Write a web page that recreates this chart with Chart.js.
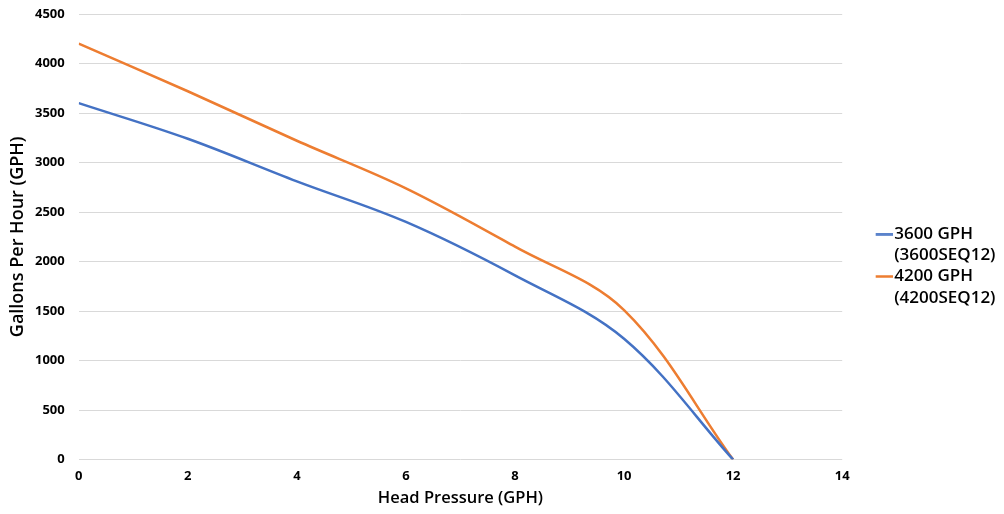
<!DOCTYPE html>
<html>
<head>
<meta charset="utf-8">
<script src="https://cdn.jsdelivr.net/npm/chart.js@4.4.1/dist/chart.umd.min.js"></script>
<style>
  html, body { margin: 0; padding: 0; background: #fff; }
  #wrap { width: 1004px; height: 514px; position: relative; }
</style>
</head>
<body>
<div id="wrap"><canvas id="c" width="1004" height="514"></canvas></div>
<script>
const headPressure = [0, 2, 4, 6, 8, 10, 12];
const gph3600 = [3600, 3240, 2810, 2400, 1860, 1220, 0];
const gph4200 = [4200, 3720, 3220, 2740, 2150, 1510, 0];
const seriesLabels = [['3600 GPH', '(3600SEQ12)'], ['4200 GPH', '(4200SEQ12)']];
const seriesColors = ['#4472C4', '#ED7D31'];
const xTitle = 'Head Pressure (GPH)';
const yTitle = 'Gallons Per Hour (GPH)';

const toPts = (ys) => headPressure.map((x, i) => ({ x: x, y: ys[i] }));
const FONT = 'Open Sans';

// legend swatch: a short horizontal line
function swatch(color) {
  const c = document.createElement('canvas');
  c.width = 25; c.height = 3;
  const g = c.getContext('2d');
  g.fillStyle = color;
  g.fillRect(0, 0.25, 25, 2.5);
  return c;
}

// widen legend box and shift its items right (gap between plot area and legend)
const LEGEND_ADD_W = 23;
const LEGEND_DX = 33.5;
const LEGEND_DY = 14;
const legendShift = {
  id: 'legendShift',
  beforeLayout(chart) {
    const lg = chart.legend;
    if (lg && !lg._shiftPatched) {
      const fit = lg.fit;
      lg.fit = function () { fit.call(this); this.width += LEGEND_ADD_W; };
      const draw = lg.draw;
      lg.draw = function () {
        this.ctx.save();
        this.ctx.translate(LEGEND_DX, LEGEND_DY);
        draw.call(this);
        this.ctx.restore();
      };
      lg._shiftPatched = true;
    }
  }
};

new Chart(document.getElementById('c'), {
  type: 'line',
  data: {
    datasets: [
      { label: seriesLabels[0], data: toPts(gph3600), borderColor: seriesColors[0], backgroundColor: seriesColors[0],
        borderWidth: 2.5, pointRadius: 0, pointStyle: swatch(seriesColors[0]), tension: 0.35 },
      { label: seriesLabels[1], data: toPts(gph4200), borderColor: seriesColors[1], backgroundColor: seriesColors[1],
        borderWidth: 2.5, pointRadius: 0, pointStyle: swatch(seriesColors[1]), tension: 0.35 }
    ]
  },
  plugins: [legendShift],
  options: {
    responsive: false,
    animation: false,
    layout: { padding: { top: 0, right: 9, left: 6, bottom: 6 } },
    plugins: {
      legend: {
        position: 'right',
        labels: {
          usePointStyle: true,
          pointStyleWidth: 10,
          boxWidth: 10,
          padding: 0,
          color: '#000',
          font: { family: FONT, size: 17, weight: '600', lineHeight: 1.25 }
        }
      },
      tooltip: { enabled: false }
    },
    scales: {
      x: {
        type: 'linear',
        min: 0, max: 14,
        ticks: { stepSize: 2, color: '#000', font: { family: FONT, size: 13, weight: 'bold' }, padding: 1,
                 callback: (v) => String(v) },
        grid: { display: false },
        border: { display: false },
        title: { display: true, text: xTitle, color: '#000', padding: { top: 3, bottom: 0 },
                 font: { family: FONT, size: 16.5, weight: '600' } }
      },
      y: {
        min: 0, max: 4500,
        afterFit: (scale) => { scale.paddingTop = 14; },
        ticks: { stepSize: 500, color: '#000', font: { family: FONT, size: 13, weight: 'bold' }, padding: 14,
                 callback: (v) => String(v) },
        grid: { color: '#d9d9d9', drawTicks: false },
        border: { display: false },
        title: { display: true, text: yTitle, color: '#000', padding: { top: 3, bottom: -6 },
                 font: { family: FONT, size: 18, weight: '600', lineHeight: 1.0 } }
      }
    }
  }
});
</script>
</body>
</html>
